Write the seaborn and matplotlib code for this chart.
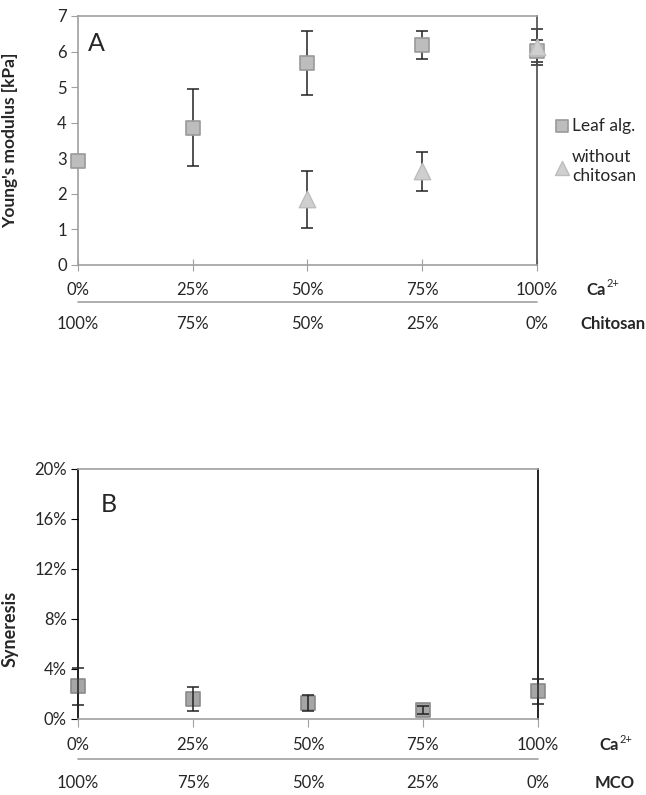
import matplotlib
matplotlib.use("Agg")
import matplotlib.pyplot as plt
import matplotlib.transforms as mtransforms
import pandas as pd
import seaborn as sns

# category axis (Ca2+ share) and the opposite component
ca_levels = [0, 25, 50, 75, 100]
ca_labels = ["0%", "25%", "50%", "75%", "100%"]
chitosan_labels = ["100%", "75%", "50%", "25%", "0%"]
mco_labels = ["100%", "75%", "50%", "25%", "0%"]

# panel A - Young's modulus [kPa]
leaf_ca = [0, 25, 50, 75, 100]
leaf_modulus = [2.92, 3.86, 5.68, 6.18, 6.02]
leaf_modulus_err = [0.1, 1.08, 0.9, 0.4, 0.3]
nochit_ca = [50, 75, 100]
nochit_modulus = [1.85, 2.63, 6.12]
nochit_modulus_err = [0.8, 0.55, 0.5]

# panel B - syneresis [%]
syn_ca = [0, 25, 50, 75, 100]
syn_values = [2.6, 1.6, 1.3, 0.7, 2.2]
syn_err = [1.5, 0.95, 0.65, 0.3, 1.0]

sns.set_style("white")
plt.rcParams["font.family"] = ["Lato", "DejaVu Sans"]

fig = plt.figure(figsize=(6.46, 7.95), dpi=100)
axA = fig.add_axes([0.1207, 0.6667, 0.7105, 0.3132])
axB = fig.add_axes([0.1207, 0.0956, 0.7120, 0.3145])

GRAY = "#a0a0a0"
FS = 12


def ca_label(ax, x, y):
    # bold "Ca" with a small raised "2+"
    ax.text(x, y, "Ca", transform=ax.transAxes, ha="right", va="center",
            fontsize=FS, fontweight="bold")
    ax.text(x + 0.002, y + 0.024, "2+", transform=ax.transAxes, ha="left",
            va="center", fontsize=8)


# ---------- panel A ----------
leaf_df = pd.DataFrame({"ca": leaf_ca, "E": leaf_modulus})
nochit_df = pd.DataFrame({"ca": nochit_ca, "E": nochit_modulus})

axA.errorbar(leaf_ca, leaf_modulus, yerr=leaf_modulus_err, fmt="none",
             ecolor="#222222", elinewidth=1.1, capsize=4, capthick=1.1,
             zorder=2, clip_on=False)
axA.errorbar(nochit_ca, nochit_modulus, yerr=nochit_modulus_err, fmt="none",
             ecolor="#222222", elinewidth=1.1, capsize=4, capthick=1.1,
             zorder=2, clip_on=False)
sns.scatterplot(data=leaf_df, x="ca", y="E", ax=axA, marker="s", s=110,
                color="#bdbdbd", edgecolor="#9a9a9a", linewidth=1.2,
                zorder=3, clip_on=False, label="Leaf alg.")
sns.scatterplot(data=nochit_df, x="ca", y="E", ax=axA, marker="^", s=140,
                color="#cfcfcf", edgecolor="#bdbdbd", linewidth=1.0,
                zorder=4, clip_on=False, label="without\nchitosan")

axA.set_xlim(0, 100)
axA.set_ylim(0, 7)
axA.set_yticks(range(0, 8))
axA.set_xticks(ca_levels)
axA.set_xticklabels([])
axA.tick_params(axis="y", direction="out", length=5, color=GRAY,
                labelsize=FS, pad=3, left=True)
axA.tick_params(axis="x", direction="inout", length=9, color=GRAY,
                bottom=True)
axA.set_xlabel("")
axA.set_ylabel("Young's modulus [kPa]", fontsize=12.5, fontweight="bold")
axA.yaxis.set_label_coords(-0.131, 0.5)
for side in ["left", "bottom", "top"]:
    axA.spines[side].set_color(GRAY)
    axA.spines[side].set_linewidth(1.2)
axA.spines["right"].set_color("#4a4a4a")
axA.spines["right"].set_linewidth(1.2)

axA.text(0.022, 0.89, "A", transform=axA.transAxes, fontsize=18,
         ha="left", va="center")

axA.legend(loc="upper left", bbox_to_anchor=(1.02, 0.62), frameon=False,
           fontsize=12.5, handletextpad=0.1, labelspacing=0.9,
           handlelength=1.0, borderaxespad=0, markerscale=0.85)

transA = mtransforms.blended_transform_factory(axA.transData, axA.transAxes)
for x, lab in zip(ca_levels, ca_labels):
    axA.text(x, -0.100, lab, transform=transA, ha="center", va="center",
             fontsize=FS)
for x, lab in zip(ca_levels, chitosan_labels):
    axA.text(x, -0.237, lab, transform=transA, ha="center", va="center",
             fontsize=FS)
axA.plot([0, 1], [-0.149, -0.149], transform=axA.transAxes, color=GRAY,
         lw=1.2, clip_on=False)
ca_label(axA, 1.150, -0.100)
axA.text(1.165, -0.237, "Chitosan", transform=axA.transAxes, ha="center",
         va="center", fontsize=FS, fontweight="bold")

# ---------- panel B ----------
syn_df = pd.DataFrame({"ca": syn_ca, "syn": syn_values})

sns.scatterplot(data=syn_df, x="ca", y="syn", ax=axB, marker="s", s=110,
                color="#a6a6a6", edgecolor="#8a8a8a", linewidth=1.2,
                zorder=3, clip_on=False, legend=False)
axB.errorbar(syn_ca, syn_values, yerr=syn_err, fmt="none",
             ecolor="#222222", elinewidth=1.1, capsize=4, capthick=1.1,
             zorder=4, clip_on=False)

axB.set_xlim(0, 100)
axB.set_ylim(0, 20)
axB.set_yticks([0, 4, 8, 12, 16, 20])
axB.set_yticklabels([f"{v}%" for v in [0, 4, 8, 12, 16, 20]])
axB.set_xticks(ca_levels)
axB.set_xticklabels([])
axB.tick_params(axis="y", direction="out", length=5, color="black",
                labelsize=FS, pad=3, left=True)
axB.tick_params(axis="x", direction="out", length=6, color=GRAY,
                bottom=True)
axB.set_xlabel("")
axB.set_ylabel("Syneresis", fontsize=13, fontweight="bold")
axB.yaxis.set_label_coords(-0.130, 0.36)
for side in ["bottom", "top"]:
    axB.spines[side].set_color(GRAY)
    axB.spines[side].set_linewidth(1.2)
for side in ["left", "right"]:
    axB.spines[side].set_color("black")
    axB.spines[side].set_linewidth(1.2)

axB.text(0.05, 0.856, "B", transform=axB.transAxes, fontsize=18,
         ha="left", va="center")

transB = mtransforms.blended_transform_factory(axB.transData, axB.transAxes)
for x, lab in zip(ca_levels, ca_labels):
    axB.text(x, -0.104, lab, transform=transB, ha="center", va="center",
             fontsize=FS)
for x, lab in zip(ca_levels, mco_labels):
    axB.text(x, -0.256, lab, transform=transB, ha="center", va="center",
             fontsize=FS)
axB.plot([0, 1], [-0.160, -0.160], transform=axB.transAxes, color=GRAY,
         lw=1.2, clip_on=False)
ca_label(axB, 1.175, -0.104)
axB.text(1.167, -0.256, "MCO", transform=axB.transAxes, ha="center",
         va="center", fontsize=FS, fontweight="bold")

fig.savefig("out.png", dpi=100)
